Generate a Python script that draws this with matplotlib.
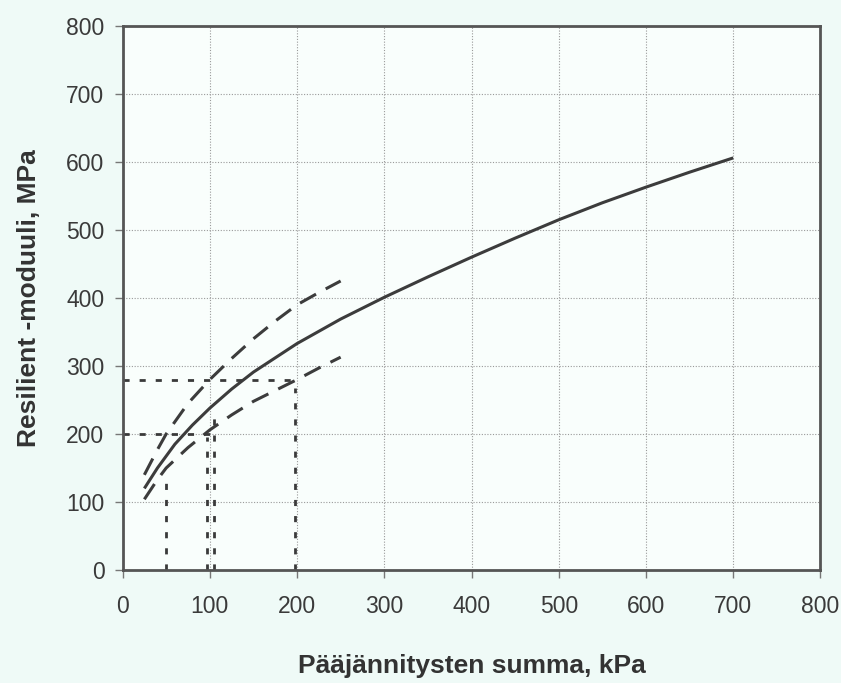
import matplotlib
matplotlib.use("Agg")
import matplotlib.pyplot as plt
import numpy as np

# Data
x_mid = [25, 40, 60, 80, 100, 125, 150, 175, 200, 250, 300, 350, 400, 450, 500, 550, 600, 650, 700]
y_mid = [120, 150, 185, 213, 238, 266, 291, 312, 333, 369, 401, 431, 460, 488, 515, 540, 563, 585, 606]

x_up = [25, 40, 50, 75, 100, 125, 150, 175, 200, 225, 250]
y_up = [140, 177, 200, 245, 280, 311, 340, 366, 390, 408, 425]

x_lo = [25, 40, 50, 75, 100, 125, 150, 175, 200, 225, 250]
y_lo = [104, 133, 150, 180, 206, 228, 248, 264, 280, 297, 313]

# reference (dotted) guide lines: (x0, y0, x1, y1)
guides_h = [(0, 200, 102, 200), (0, 280, 196, 280)]
guides_v = [(50, 0, 50, 140), (97, 0, 97, 195), (105, 0, 105, 230), (198, 0, 198, 268)]

x_ticks = [0, 100, 200, 300, 400, 500, 600, 700, 800]
y_ticks = [0, 100, 200, 300, 400, 500, 600, 700, 800]
xlabel = "Pääjännitysten summa, kPa"
ylabel = "Resilient -moduuli, MPa"

plt.rcParams['font.family'] = ['Liberation Sans', 'DejaVu Sans']

fig = plt.figure(figsize=(8.41, 6.83), dpi=100, facecolor='#effaf7')
ax = fig.add_axes([0.1457, 0.1654, 0.9756 - 0.1457, 0.962 - 0.1654])
ax.set_facecolor('#f9fefc')

line_col = '#3c3c3c'
ax.plot(x_mid, y_mid, color=line_col, lw=2.2, solid_capstyle='butt')
ax.plot(x_up, y_up, color=line_col, lw=2.2, dashes=(6, 3.6))
ax.plot(x_lo, y_lo, color=line_col, lw=2.2, dashes=(6, 3.6))

for (a, b, c, d) in guides_h + guides_v:
    ax.plot([a, c], [b, d], color='#3a3a3a', lw=2.0, dashes=(2.2, 3.6))

ax.set_xlim(0, 800)
ax.set_ylim(0, 800)
ax.set_xticks(x_ticks)
ax.set_yticks(y_ticks)
ax.grid(True, color='#9a9a9a', lw=0.8, linestyle=(0, (1, 1.5)))
ax.set_axisbelow(True)

for s in ax.spines.values():
    s.set_color('#555555')
    s.set_linewidth(2.0)

ax.tick_params(axis='both', direction='out', length=6, width=1.0, color='#777777',
               labelsize=16.5, labelcolor='#3a3a3a', pad=7)
ax.tick_params(axis='x', pad=12)

ax.set_xlabel(xlabel, fontsize=19, fontweight='bold', color='#333333', labelpad=26)
ax.set_ylabel(ylabel, fontsize=19, fontweight='bold', color='#333333', labelpad=18)

fig.savefig('out.png', dpi=100, facecolor=fig.get_facecolor())
